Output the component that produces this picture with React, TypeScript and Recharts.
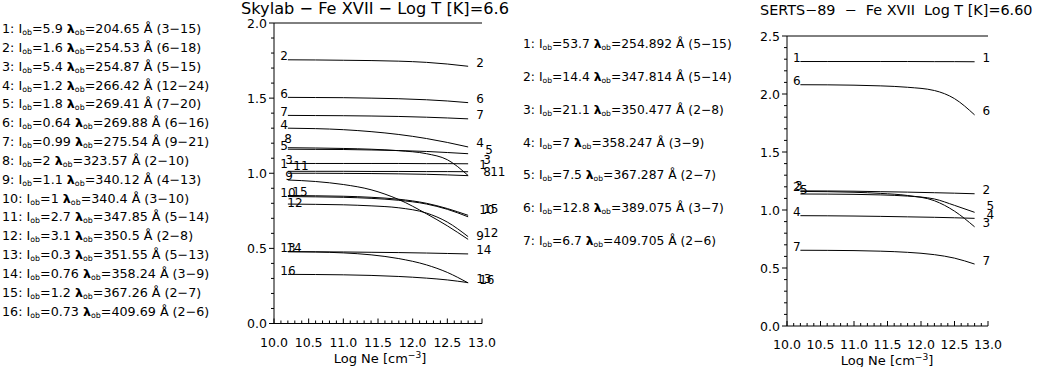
import React from 'react';
import { LineChart, Line, XAxis, YAxis } from 'recharts';

const FONT = '"DejaVu Sans", sans-serif';

const neGrid = [10.2, 10.6, 11.0, 11.4, 11.8, 12.2, 12.5, 12.8];

// Skylab ratios
const sky1 = [1.013, 1.013, 1.013, 1.012, 1.012, 1.011, 1.011, 1.01];
const sky2 = [1.755, 1.754, 1.752, 1.75, 1.746, 1.738, 1.727, 1.712];
const sky3 = [1.065, 1.065, 1.065, 1.065, 1.065, 1.064, 1.064, 1.063];
const sky4 = [1.3, 1.297, 1.29, 1.277, 1.258, 1.231, 1.205, 1.175];
const sky5 = [1.16, 1.159, 1.158, 1.155, 1.151, 1.145, 1.138, 1.13];
const sky6 = [1.505, 1.504, 1.503, 1.5, 1.496, 1.489, 1.481, 1.47];
const sky7 = [1.385, 1.384, 1.383, 1.381, 1.378, 1.373, 1.368, 1.362];
const sky8 = [1.17, 1.168, 1.165, 1.16, 1.15, 1.13, 1.09, 0.985];
const sky9 = [0.955, 0.945, 0.925, 0.89, 0.825, 0.73, 0.65, 0.56];
const sky10 = [0.845, 0.843, 0.84, 0.833, 0.82, 0.795, 0.76, 0.71];
const sky11 = [1.0, 1.0, 0.999, 0.998, 0.996, 0.993, 0.989, 0.984];
const sky12 = [0.795, 0.793, 0.79, 0.783, 0.77, 0.735, 0.675, 0.578];
const sky13 = [0.478, 0.476, 0.47, 0.457, 0.432, 0.39, 0.34, 0.27];
const sky14 = [0.478, 0.477, 0.476, 0.474, 0.472, 0.469, 0.466, 0.463];
const sky15 = [0.852, 0.85, 0.847, 0.84, 0.827, 0.8, 0.765, 0.72];
const sky16 = [0.327, 0.326, 0.324, 0.32, 0.313, 0.302, 0.29, 0.272];

// SERTS-89 ratios
const serts1 = [2.28, 2.28, 2.28, 2.28, 2.28, 2.279, 2.279, 2.278];
const serts2 = [1.165, 1.164, 1.162, 1.158, 1.154, 1.149, 1.145, 1.14];
const serts3 = [1.16, 1.158, 1.153, 1.143, 1.125, 1.08, 0.99, 0.855];
const serts4 = [0.951, 0.95, 0.948, 0.945, 0.941, 0.937, 0.933, 0.928];
const serts5 = [1.138, 1.137, 1.135, 1.13, 1.12, 1.095, 1.04, 0.98];
const serts6 = [2.08, 2.079, 2.076, 2.07, 2.058, 2.03, 1.96, 1.82];
const serts7 = [0.653, 0.652, 0.65, 0.645, 0.635, 0.615, 0.585, 0.534];

// line lists
const skyIob = ['5.9', '1.6', '5.4', '1.2', '1.8', '0.64', '0.99', '2', '1.1', '1', '2.7', '3.1', '0.3', '0.76', '1.2', '0.73'];
const skyLambda = ['204.65', '254.53', '254.87', '266.42', '269.41', '269.88', '275.54', '323.57', '340.12', '340.4', '347.85', '350.5', '351.55', '358.24', '367.26', '409.69'];
const skyTrans = ['3−15', '6−18', '5−15', '12−24', '7−20', '6−16', '9−21', '2−10', '4−13', '3−10', '5−14', '2−8', '5−13', '3−9', '2−7', '2−6'];

const sertsIob = ['53.7', '14.4', '21.1', '7', '7.5', '12.8', '6.7'];
const sertsLambda = ['254.892', '347.814', '350.477', '358.247', '367.287', '389.075', '409.705'];
const sertsTrans = ['5−15', '5−14', '2−8', '3−9', '2−7', '3−7', '2−6'];

const neTicks = Array.from({ length: 31 }, (_, i) => (100 + i) / 10);
const skyYTicks = Array.from({ length: 21 }, (_, i) => i / 10);
const sertsYTicks = Array.from({ length: 26 }, (_, i) => i / 10);

// label nudges in px: [left dx, left dy, right dx, right dy]
const skyNudge: Record<string, number[]> = {
  '8': [4, -5, 7, 0], '3': [5, 0, 7, 0], '1': [0, -4, 3, -3], '11': [13, -4, 14, 0],
  '9': [5, -1, 0, 0], '15': [12, 0, 7, -3], '12': [7, 2, 7, 0], '14': [6, 0, 0, 0],
  '5': [0, 0, 9, 0], '10': [0, 0, 3, -3], '16': [0, 0, 3, 1],
};
const sertsNudge: Record<string, number[]> = {
  '3': [2, -2, 0, 0], '5': [7, 0, 4, -3], '4': [0, 0, 4, 0],
};

const skySeries = [sky1, sky2, sky3, sky4, sky5, sky6, sky7, sky8, sky9, sky10, sky11, sky12, sky13, sky14, sky15, sky16];
const sertsSeries = [serts1, serts2, serts3, serts4, serts5, serts6, serts7];

function toRows(series: number[][]) {
  return neGrid.map((ne, i) => {
    const row: Record<string, number> = { ne };
    series.forEach((s, k) => { row['s' + (k + 1)] = s[i]; });
    return row;
  });
}

const isMajor = (v: number) => Math.abs(v * 2 - Math.round(v * 2)) < 1e-6;

function BottomTick({ x, y, payload }: any) {
  const v = payload.value;
  const m = isMajor(v);
  return (
    <g>
      <line x1={x} x2={x} y1={y} y2={y - (m ? 5 : 3)} stroke="#000" />
      {m && (
        <text x={x} y={y + 23} textAnchor="middle" fontSize={12.5} fontFamily={FONT} fill="#000">
          {v.toFixed(1)}
        </text>
      )}
    </g>
  );
}

function TopTick({ x, y, payload }: any) {
  const m = isMajor(payload.value);
  return <line x1={x} x2={x} y1={y} y2={y + (m ? 5 : 3)} stroke="#000" />;
}

function LeftTick({ x, y, payload }: any) {
  const v = payload.value;
  const m = isMajor(v);
  return (
    <g>
      <line x1={x} x2={x - (m ? 5 : 3)} y1={y} y2={y} stroke="#000" />
      {m && (
        <text x={x - 7} y={y + 4.5} textAnchor="end" fontSize={12.5} fontFamily={FONT} fill="#000">
          {v.toFixed(1)}
        </text>
      )}
    </g>
  );
}

function endLabels(name: string, nudge: number[], n: number) {
  return (props: any) => {
    const { x, y, index } = props;
    if (index === 0) {
      return (
        <text x={x - 7.5 + nudge[0]} y={y + 0.5 + nudge[1]} fontSize={12} fontFamily={FONT} fill="#000">
          {name}
        </text>
      );
    }
    if (index === n - 1) {
      return (
        <text x={x + 8 + nudge[2]} y={y + 0.5 + nudge[3]} fontSize={12} fontFamily={FONT} fill="#000">
          {name}
        </text>
      );
    }
    return null;
  };
}

interface PanelProps {
  left: number;
  width: number;
  margin: { top: number; right: number; bottom: number; left: number };
  yMax: number;
  yTicks: number[];
  series: number[][];
  nudges: Record<string, number[]>;
}

function Panel({ left, width, margin, yMax, yTicks, series, nudges }: PanelProps) {
  const rows = toRows(series);
  return (
    <div style={{ position: 'absolute', left, top: 0 }}>
      <LineChart width={width} height={367} data={rows} margin={margin}>
        <XAxis
          dataKey="ne" type="number" domain={[10, 13]} ticks={neTicks} interval={0}
          tickSize={0} tickMargin={0} tickLine={false} tick={<BottomTick />} height={30}
          axisLine={{ stroke: '#000' }}
        />
        <XAxis
          xAxisId="top" orientation="top" type="number" domain={[10, 13]} ticks={neTicks} interval={0}
          tickSize={0} tickMargin={0} tickLine={false} tick={<TopTick />} height={1}
          axisLine={{ stroke: '#000' }}
        />
        <YAxis
          type="number" domain={[0, yMax]} ticks={yTicks} interval={0} width={40}
          tickSize={0} tickMargin={0} tickLine={false} tick={<LeftTick />}
          axisLine={{ stroke: '#000' }}
        />
        {series.map((_, k) => {
          const name = String(k + 1);
          return (
            <Line
              key={name}
              dataKey={'s' + name}
              type="monotone"
              stroke="#000"
              strokeWidth={1}
              dot={false}
              isAnimationActive={false}
              label={endLabels(name, nudges[name] || [0, 0, 0, 0], neGrid.length)}
            />
          );
        })}
      </LineChart>
    </div>
  );
}

const subStyle: React.CSSProperties = { fontSize: '0.62em', verticalAlign: '-0.3em', lineHeight: 0 };

function LineList({ iob, lam, trans, left, firstY, pitch, fontSize }: any) {
  return (
    <>
      {iob.map((v: string, i: number) => (
        <div
          key={i}
          style={{
            position: 'absolute', left, top: firstY + i * pitch - 0.486 * fontSize,
            fontFamily: FONT, fontSize, lineHeight: 1, whiteSpace: 'pre', color: '#000',
          }}
        >
          {i + 1}: I<span style={subStyle}>ob</span>={v} <span style={{ fontWeight: 'bold' }}>λ</span>
          <span style={subStyle}>ob</span>={lam[i]} Å ({trans[i]})
        </div>
      ))}
    </>
  );
}

const textBase: React.CSSProperties = { position: 'absolute', fontFamily: FONT, color: '#000', whiteSpace: 'pre', lineHeight: 1 };

export default function App() {
  return (
    <div style={{ position: 'absolute', left: 0, top: 0, width: 1038, height: 367, background: '#fff', overflow: 'hidden' }}>
      <LineList iob={skyIob} lam={skyLambda} trans={skyTrans} left={2} firstY={29.3} pitch={18.83} fontSize={12.7} />
      <LineList iob={sertsIob} lam={sertsLambda} trans={sertsTrans} left={523} firstY={44} pitch={32.83} fontSize={12.3} />

      <Panel
        left={230} width={280}
        margin={{ top: 22, right: 28, bottom: 13.5, left: 4 }}
        yMax={2} yTicks={skyYTicks} series={skySeries} nudges={skyNudge}
      />
      <Panel
        left={745} width={293}
        margin={{ top: 35, right: 50, bottom: 11, left: 2 }}
        yMax={2.5} yTicks={sertsYTicks} series={sertsSeries} nudges={sertsNudge}
      />

      <div style={{ ...textBase, left: 241, top: 1, fontSize: 16.2 }}>Skylab − Fe XVII − Log T [K]=6.6</div>
      <div style={{ ...textBase, left: 760, top: 3, fontSize: 14.4 }}>SERTS−89  −  Fe XVII  Log T [K]=6.60</div>

      <div style={{ ...textBase, left: 380, top: 351.5, fontSize: 13, transform: 'translateX(-50%)' }}>
        Log Ne [cm<sup style={{ fontSize: '0.7em', lineHeight: 0 }}>−3</sup>]
      </div>
      <div style={{ ...textBase, left: 887, top: 353.5, fontSize: 13, transform: 'translateX(-50%)' }}>
        Log Ne [cm<sup style={{ fontSize: '0.7em', lineHeight: 0 }}>−3</sup>]
      </div>
    </div>
  );
}
